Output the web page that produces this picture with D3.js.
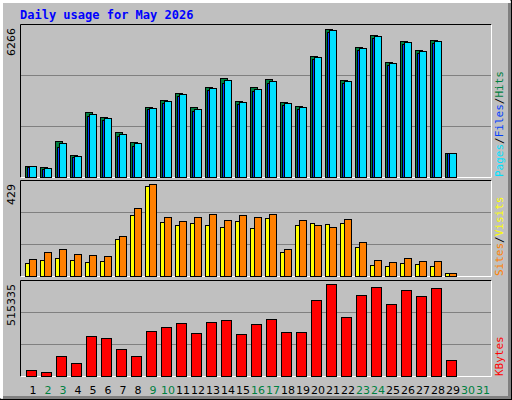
<!DOCTYPE html>
<html><head><meta charset="utf-8">
<script src="https://cdn.jsdelivr.net/npm/d3@7"></script>
<style>body{margin:0;background:#fff}svg{display:block}</style>
</head><body><svg id="c" width="512" height="400"></svg>
<script>
const days = d3.range(1, 32).map(String);
const weekend = [2,3,9,10,16,17,23,24,30,31];
const hits  = [466,410,1524,931,2739,2540,1905,1482,2951,3260,3544,2951,3811,4192,3218,3811,4149,3176,3006,5123,6266,4107,5504,6012,4869,5758,5377,5800,1016,0,0];
const files = [440,330,1282,850,2583,2420,1740,1300,2860,3150,3440,2780,3700,4000,3100,3650,3970,3060,2860,5010,6160,3960,5390,5900,4750,5640,5250,5690,1003,0,0];
const pages = [466,368,1427,876,2655,2485,1808,1427,2909,3205,3502,2866,3756,4094,3163,3713,4052,3120,2951,5068,6211,4052,5449,5956,4814,5703,5322,5745,1003,0,0];
const visits = [61,76,84,76,65,70,173,284,420,252,238,247,238,228,256,224,270,112,238,247,242,247,135,51,47,61,56,47,14,0,0];
const sites  = [79,112,126,103,98,93,187,317,429,275,256,275,289,261,284,275,289,126,261,238,228,266,159,75,65,84,70,70,14,0,0];
const kbytes = [31858,20614,110566,71212,223006,211762,149920,110566,251116,273604,296092,239872,301714,312958,234250,290470,318580,245494,245494,425398,515335,329824,453508,498484,402910,481618,447886,492862,88078,0,0];
const maxLabels = ["6266","429","515335"];

const svg = d3.select("#c");
const mono = "'DejaVu Sans Mono', monospace";
// frame
svg.append("rect").attr("x",0).attr("y",0).attr("width",512).attr("height",400).attr("fill","#000");
svg.append("rect").attr("x",1).attr("y",1).attr("width",510).attr("height",398).attr("fill","#c0c0c0");
svg.append("path").attr("d","M1.5,398.5V1.5H510.5").attr("stroke","#fff").attr("fill","none").attr("stroke-width",3);
svg.append("path").attr("d","M3,397.5H509.5V3").attr("stroke","#808080").attr("fill","none").attr("stroke-width",3);
svg.append("text").attr("x",20).attr("y",19).attr("font-family",mono).attr("font-weight","bold")
  .attr("font-size",12).attr("fill","#0000ff").text("Daily usage for May 2026");

const x = d3.scaleBand().domain(days).range([20, 485]).paddingInner(0).paddingOuter(0);
const panels = [{top:24,bot:177,mtop:29,max:6266},{top:180,bot:276,mtop:184.3,max:429},{top:280,bot:376,mtop:284.3,max:515335}];
panels.forEach((p,i)=>{
  svg.append("rect").attr("x",20.5).attr("y",p.top+0.5).attr("width",471).attr("height",p.bot-p.top).attr("fill","#c0c0c0");
  const gh=(p.bot-p.top)/3;
  [1,2].forEach(k=>svg.append("line").attr("x1",21).attr("x2",491).attr("y1",Math.round(p.top+gh*k)+0.5).attr("y2",Math.round(p.top+gh*k)+0.5).attr("stroke","#808080"));
  svg.append("path").attr("d",`M20.5,${p.bot+0.5}V${p.top+0.5}H491.5`).attr("stroke","#000").attr("fill","none");
  svg.append("path").attr("d",`M20.5,${p.bot+0.5}H491.5V${p.top+0.5}`).attr("stroke","#fff").attr("fill","none");
  p.y = d3.scaleLinear().domain([0, p.max*(p.bot-p.top)/(p.bot-p.mtop)]).range([p.bot, p.top]);
  svg.append("text").attr("transform",`translate(15,${p.top+4}) rotate(-90)`).attr("text-anchor","end")
    .attr("font-family","'DejaVu Sans', sans-serif").attr("font-size",11).attr("fill","#000").text(maxLabels[i]);
});
function bars(data, p, off, w, fill){
  svg.append("g").selectAll("rect").data(data).join("rect")
    .filter(d=>d>0)
    .attr("x",(d,i)=>x(days[i])+off+0.5).attr("width",w)
    .attr("y",d=>Math.round(p.y(d))+0.5).attr("height",d=>p.bot-Math.round(p.y(d)))
    .attr("fill",fill).attr("stroke","#000");
}
// panel 1: hits (back, shadow style), files, pages
bars(hits, panels[0], 5, 7, "#008040");
bars(files, panels[0], 7, 6, "#0040ff");
bars(pages, panels[0], 9, 7, "#00e0ff");
bars(visits, panels[1], 5, 4, "#ffff00");
bars(sites, panels[1], 9, 7, "#ff8000");
bars(kbytes, panels[2], 6, 10, "#ff0000");

// x labels
svg.append("g").selectAll("text").data(days).join("text")
  .attr("x",d=>x(d)+13).attr("y",394).attr("text-anchor","middle")
  .attr("font-family","'DejaVu Sans', sans-serif").attr("font-size",11)
  .attr("fill",d=>weekend.includes(+d)?"#008040":"#000").text(d=>d);

// right labels
function rlabel(y0, parts){
  const t=svg.append("text").attr("transform",`translate(503,${y0}) rotate(-90)`)
    .attr("font-family",mono).attr("font-size",11);
  parts.forEach(([s,c])=>t.append("tspan").attr("fill",c).text(s));
}
rlabel(177,[["Pages","#00e0ff"],["/","#000"],["Files","#0040ff"],["/","#000"],["Hits","#008040"]]);
rlabel(276,[["Sites","#ff8000"],["/","#000"],["Visits","#ffff00"]]);
rlabel(376,[["KBytes","#ff0000"]]);
</script></body></html>
